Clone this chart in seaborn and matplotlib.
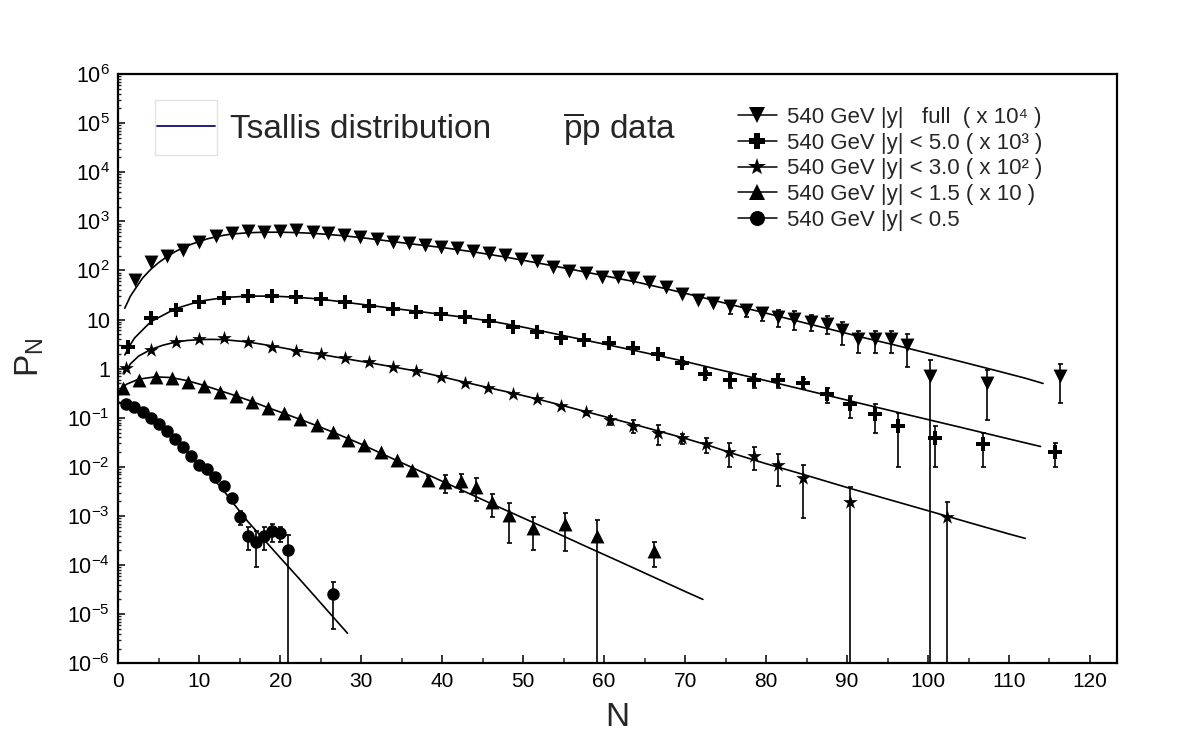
import numpy as np
import matplotlib
matplotlib.use("Agg")
import matplotlib.pyplot as plt
import seaborn as sns
from matplotlib.lines import Line2D
from matplotlib.patches import Rectangle
from matplotlib.ticker import LogLocator, FixedLocator, MultipleLocator, FuncFormatter, NullFormatter

# ---------------- data (as plotted, already scaled) ----------------
# |y| full (x 10^4)
n_full = [2.1, 4.1, 6.0, 8.0, 10.0, 12.1, 14.0, 16.0, 18.0, 20.0, 22.0, 24.0, 25.9, 27.9, 29.9,
          31.9, 33.9, 35.9, 37.9, 39.8, 41.8, 43.8, 45.8, 47.8, 49.7, 51.7, 53.7, 55.7, 57.7, 59.7,
          61.7, 63.6, 65.6, 67.6, 69.6, 71.6, 73.5, 75.5, 77.5, 79.5, 81.5, 83.5, 85.5, 87.5, 89.4,
          91.4, 93.4, 95.4, 97.4, 100.3, 107.3, 116.3]
p_full = [63.7, 150, 199, 260, 373, 509, 570, 644, 614, 644, 665, 597, 570, 526, 479,
          436, 384, 356, 324, 304, 282, 248, 223, 206, 171, 155, 119, 97, 87, 74.5,
          74.5, 71, 59, 46.6, 32.6, 25, 21.4, 18.5, 15.5, 13.4, 11.4, 10.3, 9.0, 8.3, 6.0,
          4.0, 4.0, 4.0, 3.1, 0.72, 0.51, 0.71]
e_full = [0] * 37 + [5.5, 4.2, 4.0, 4.3, 4.3, 3.2, 3.3, 3.0, 1.9, 1.9, 1.9, 2.0, 0.75, 0.42, 0.51]

# |y| < 5.0 (x 10^3)
n_y50 = [1.2, 4.1, 7.1, 10.0, 13.0, 16.0, 19.0, 22.0, 25.0, 28.0, 30.9, 33.9, 36.8, 39.8, 42.8,
         45.8, 48.8, 51.7, 54.7, 57.5, 60.6, 63.6, 66.6, 69.6, 72.5, 75.5, 78.5, 81.5, 84.5, 87.5,
         90.4, 93.4, 96.3, 100.8, 106.8, 115.7]
p_y50 = [2.79, 10.9, 15.6, 22.4, 27.8, 30.1, 30.1, 29.1, 25.8, 22.4, 19.1, 16.1, 14.0, 12.9, 11.1,
         9.3, 7.1, 5.5, 4.26, 3.82, 3.27, 2.67, 1.95, 1.32, 0.77, 0.59, 0.59, 0.59, 0.50, 0.30,
         0.187, 0.119, 0.068, 0.039, 0.029, 0.020]
e_y50 = [0] * 23 + [0.13, 0.12, 0.19, 0.19, 0.19, 0.12, 0.10, 0.09, 0.071, 0.058, 0.029, 0.019, 0.010]

# |y| < 3.0 (x 10^2)
n_y30 = [1.0, 4.1, 7.1, 10.0, 13.0, 16.0, 19.0, 22.0, 25.0, 28.0, 30.9, 33.9, 36.8, 39.8, 42.8,
         45.7, 48.8, 51.7, 54.7, 57.7, 60.7, 63.6, 66.7, 69.6, 72.6, 75.4, 78.5, 81.5, 84.5, 90.4,
         102.3]
p_y30 = [1.04, 2.39, 3.53, 4.01, 4.14, 3.53, 2.79, 2.28, 1.95, 1.62, 1.34, 1.09, 0.89, 0.665, 0.50,
         0.41, 0.304, 0.237, 0.175, 0.128, 0.090, 0.068, 0.049, 0.038, 0.029, 0.020, 0.0169, 0.011,
         0.0059, 0.0019, 0.00096]
e_y30 = [0] * 18 + [0.01, 0.012, 0.019, 0.020, 0.021, 0.0093, 0.010, 0.0102, 0.0082, 0.007, 0.005,
                    0.00195, 0.00098]

# |y| < 1.5 (x 10)
n_y15 = [0.6, 2.6, 4.6, 6.6, 8.6, 10.6, 12.6, 14.5, 16.5, 18.5, 20.5, 22.5, 24.5, 26.5, 28.4,
         30.4, 32.4, 34.4, 36.3, 38.3, 40.3, 42.3, 44.2, 46.2, 48.3, 51.2, 55.2, 59.1, 66.1]
p_y15 = [0.397, 0.586, 0.665, 0.634, 0.541, 0.442, 0.339, 0.277, 0.212, 0.155, 0.123, 0.094, 0.071,
         0.052, 0.036, 0.0278, 0.0204, 0.0137, 0.0086, 0.0053, 0.0049, 0.0051, 0.0039, 0.0019,
         0.00107, 0.00058, 0.00068, 0.0004, 0.00019]
e_y15 = [0] * 19 + [0.0013, 0.0019, 0.0020, 0.0019, 0.00096, 0.00079, 0.00038, 0.00049, 0.00042,
                    0.0001]

# |y| < 0.5
n_y05 = [1, 2, 3, 4, 5, 6, 7, 8, 9, 10, 11, 12, 13, 14, 15, 16, 17, 18, 19, 20, 21, 26.5]
p_y05 = [0.187, 0.168, 0.132, 0.097, 0.0734, 0.0536, 0.0368, 0.0249, 0.0168, 0.0109, 0.0089,
         0.0063, 0.0041, 0.00228, 0.00095, 0.0004, 0.00029, 0.0004, 0.00049, 0.00045, 0.0002,
         2.55e-5]
e_y05 = [0] * 14 + [0.00031, 0.0002, 0.0002, 0.0002, 0.00019, 0.00015, 0.00021, 2.05e-5]

# Tsallis fit curves
cn_full = [0.8, 1.5, 2, 3, 4, 5, 6, 7, 8, 9, 10, 11, 12, 13, 14, 16, 18, 20, 22, 24, 26, 28, 30,
           32, 34, 36, 38, 40, 44, 48, 52, 56, 60, 64, 68, 72, 76, 80, 84, 88, 92, 96, 100, 104,
           108, 112, 114.2]
cp_full = [17, 30, 40, 70, 105, 145, 190, 240, 290, 340, 390, 440, 480, 520, 550, 585, 600, 600,
           590, 570, 540, 505, 465, 425, 385, 350, 320, 293, 237, 185, 140, 105, 78, 58, 41, 28.5,
           19.5, 13.5, 9.2, 6.3, 4.3, 3.0, 2.05, 1.4, 0.95, 0.64, 0.50]
cn_y50 = [0.8, 1.5, 2, 4, 7, 10, 13, 16, 19, 22, 25, 28, 31, 34, 38, 42, 46, 50, 54, 58, 62, 66,
          70, 74, 80, 86, 92, 98, 104, 110, 113.9]
cp_y50 = [1.9, 3.1, 4.2, 9.0, 16.5, 23.5, 28, 30, 30, 28.5, 26, 22.5, 19.5, 16.8, 14, 11.5, 9.3,
          7.0, 5.1, 3.7, 2.7, 1.95, 1.4, 0.97, 0.57, 0.33, 0.19, 0.11, 0.064, 0.037, 0.026]
cn_y30 = [0.7, 1.5, 2.5, 4, 5.5, 7, 8.5, 10, 11.5, 13, 16, 19, 22, 25, 28, 31, 34, 37, 40, 43, 46,
          49, 52, 55, 58, 61, 64, 67, 70, 73, 76, 80, 85, 90, 95, 100, 105, 110, 112]
cp_y30 = [0.78, 1.25, 1.8, 2.45, 3.0, 3.45, 3.75, 3.9, 3.95, 3.9, 3.5, 2.9, 2.35, 1.95, 1.6, 1.32,
          1.08, 0.88, 0.68, 0.52, 0.40, 0.31, 0.235, 0.175, 0.13, 0.096, 0.071, 0.052, 0.038,
          0.027, 0.0185, 0.0116, 0.0067, 0.0038, 0.0022, 0.00128, 0.00074, 0.00043, 0.00035]
cn_y15 = [0.2, 1, 2.5, 4.5, 6.5, 8.5, 10.5, 12.5, 14.5, 16.5, 18.5, 20.5, 22.5, 24.5, 26.5, 30,
          34, 38, 42, 46, 50, 54, 58, 62, 66, 70, 72.2]
cp_y15 = [0.36, 0.48, 0.61, 0.68, 0.66, 0.57, 0.46, 0.36, 0.28, 0.215, 0.16, 0.122, 0.092, 0.069,
          0.051, 0.029, 0.0144, 0.0072, 0.0036, 0.0018, 0.00091, 0.00046, 0.00023, 0.000116,
          5.8e-5, 2.9e-5, 2.0e-5]
cn_y05 = [0, 1, 2, 3, 4, 5, 6, 7, 8, 9, 10, 11, 12, 13, 14, 16, 18, 20, 22, 24, 26, 28.3]
cp_y05 = [0.21, 0.185, 0.158, 0.128, 0.098, 0.073, 0.053, 0.037, 0.0255, 0.0172, 0.0115, 0.0077,
          0.0051, 0.0033, 0.0020, 0.00077, 0.00033, 0.000141, 6.1e-5, 2.6e-5, 1.1e-5, 4.1e-6]

labels = ["540 GeV |y|   full  ( x 10\u2074 )",
          "540 GeV |y| < 5.0 ( x 10\u00b3 )",
          "540 GeV |y| < 3.0 ( x 10\u00b2 )",
          "540 GeV |y| < 1.5 ( x 10 )",
          "540 GeV |y| < 0.5"]
x_ticks = [0, 10, 20, 30, 40, 50, 60, 70, 80, 90, 100, 110, 120]

# ---------------- style ----------------
sns.set_theme(style="ticks")
plt.rcParams['font.family'] = ['Liberation Sans', 'DejaVu Sans']
plt.rcParams['mathtext.fontset'] = 'custom'
plt.rcParams['mathtext.rm'] = 'Liberation Sans'
plt.rcParams['mathtext.it'] = 'Liberation Sans:italic'
plt.rcParams['mathtext.bf'] = 'Liberation Sans:bold'
plt.rcParams['mathtext.default'] = 'regular'

fig = plt.figure(figsize=(11.82, 7.38), dpi=100)
W, H = 1182.0, 738.0
ax = fig.add_axes([118.3 / W, 1 - 663.3 / H, (1116.7 - 118.3) / W, (663.3 - 74) / H])
ax.set_yscale('log')

series = [
    (n_full, p_full, e_full, cn_full, cp_full, 'v', 10),
    (n_y50, p_y50, e_y50, cn_y50, cp_y50, 'P', 10),
    (n_y30, p_y30, e_y30, cn_y30, cp_y30, '*', 11),
    (n_y15, p_y15, e_y15, cn_y15, cp_y15, '^', 10),
    (n_y05, p_y05, e_y05, cn_y05, cp_y05, 'o', 9),
]

for n, p, e, cn, cp, m, ms in series:
    sns.lineplot(x=cn, y=cp, ax=ax, color='black', lw=1.2, sort=False, estimator=None, zorder=2)
    n_a, p_a, e_a = np.array(n), np.array(p), np.array(e)
    mask = e_a > 0
    if mask.any():
        ax.errorbar(n_a[mask], p_a[mask], yerr=e_a[mask], fmt='none', ecolor='black',
                    elinewidth=1.2, capsize=1.8, capthick=1.2, zorder=3)
    sns.scatterplot(x=n, y=p, ax=ax, marker=m, s=ms ** 2, color='black', edgecolor='black',
                    linewidth=0, zorder=4)

ax.set_xlim(0, 123.3)
ax.set_ylim(1e-6, 1e6)

ax.xaxis.set_major_locator(FixedLocator(x_ticks))
ax.xaxis.set_minor_locator(MultipleLocator(5))
ax.yaxis.set_major_locator(LogLocator(base=10, numticks=20))
ax.yaxis.set_minor_locator(LogLocator(base=10, subs=np.arange(2, 10), numticks=200))
ax.yaxis.set_minor_formatter(NullFormatter())


def yfmt(v, pos):
    k = int(round(np.log10(v)))
    if k == 0:
        return '1'
    if k == 1:
        return '10'
    return r'$10^{%d}$' % k


ax.yaxis.set_major_formatter(FuncFormatter(yfmt))
ax.tick_params(axis='x', which='major', direction='in', length=6, width=1.1, top=False,
               labelsize=15, pad=6, colors='black')
ax.tick_params(axis='x', which='minor', direction='in', length=3.5, width=1.1, top=False)
ax.tick_params(axis='y', which='major', direction='in', length=5, width=1.1, right=False,
               labelsize=15.5, pad=6, colors='black')
ax.tick_params(axis='y', which='minor', direction='in', length=2.5, width=1.0, right=False)
for s in ax.spines.values():
    s.set_linewidth(1.6)
    s.set_color('black')

ax.set_xlabel('N', fontsize=24)
ax.set_ylabel(r'P$_{\mathrm{N}}$', fontsize=24)
ax.xaxis.set_label_coords(0.5, -0.065)
ax.yaxis.set_label_coords(-0.072, 0.52)

# Tsallis legend (handle in a light box)
leg1 = fig.legend(handles=[Line2D([], [], color='#101070', lw=1.3)], labels=['Tsallis distribution'],
                  loc='center left', bbox_to_anchor=(157 / W, 1 - 129 / H), frameon=False,
                  fontsize=24, handlelength=1.75, handletextpad=0.45, borderpad=0,
                  borderaxespad=0)
fig.add_artist(Rectangle((155 / W, 1 - 155 / H), 62 / W, 55 / H, transform=fig.transFigure,
                         fill=False, edgecolor='#e2e2e2', lw=1))
fig.text(563 / W, 1 - 129 / H, r'$\overline{\mathrm{p}}$p data', fontsize=24, va='center',
         ha='left')

handles = [Line2D([], [], color='black', lw=1.1, marker=m, markersize=ms * 1.2,
                  markeredgewidth=0)
           for (_, _, _, _, _, m, ms) in series]
fig.legend(handles=handles, labels=labels, loc='upper left', bbox_to_anchor=(738 / W, 1 - 107 / H),
           frameon=False, fontsize=16, handlelength=1.75, handletextpad=0.45, labelspacing=0.21,
           borderpad=0, borderaxespad=0, numpoints=1)

fig.savefig('out.png', dpi=100)
